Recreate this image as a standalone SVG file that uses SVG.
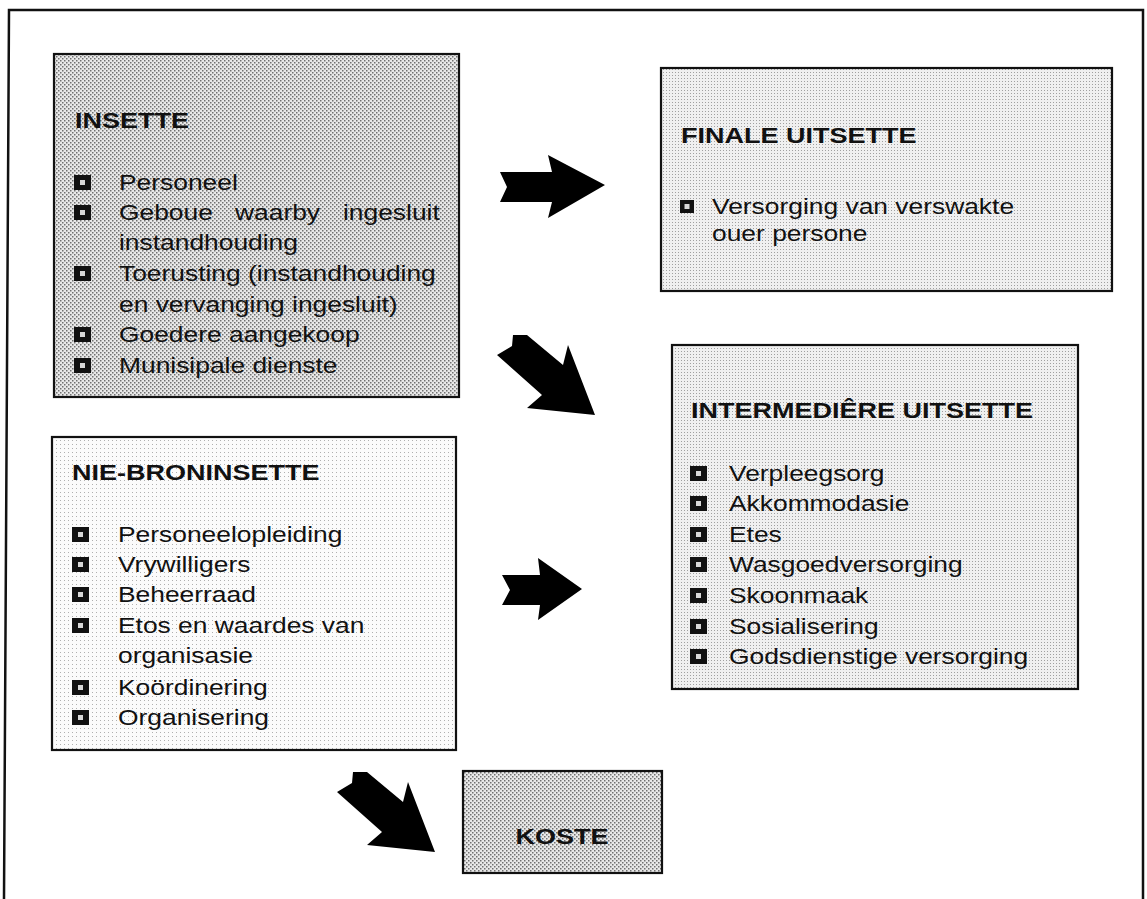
<svg xmlns="http://www.w3.org/2000/svg" xmlns:xlink="http://www.w3.org/1999/xlink" width="1147" height="899" viewBox="0 0 1147 899">
<defs>
<style>
.t{font-family:"Liberation Sans",Arial,sans-serif;font-size:22px;fill:#111}
.h{font-family:"Liberation Sans",Arial,sans-serif;font-size:22.5px;font-weight:bold;fill:#111}
.box{stroke:#111;stroke-width:2.2}
.arrow{fill:#000}
</style>
<pattern id="pDark" width="4" height="4" patternUnits="userSpaceOnUse"><rect width="4" height="4" fill="#e8e8e8"/><rect width="1.5" height="1.5" fill="#707070"/><rect x="2" y="2" width="1.5" height="1.5" fill="#707070"/></pattern>
<pattern id="pLight" width="3" height="3" patternUnits="userSpaceOnUse"><rect width="3" height="3" fill="#f0f0f0"/><rect width="1" height="1" fill="#a0a0a0"/></pattern>
<pattern id="pGrid" width="4" height="4" patternUnits="userSpaceOnUse"><rect width="4" height="4" fill="#fbfbfb"/><rect width="1" height="1" fill="#b0b0b0"/></pattern>
<g id="bullet"><rect width="17" height="15" fill="#111"/><rect x="6" y="5" width="5" height="5" fill="#d8d8d8"/></g>
<g id="bulletS"><rect width="14" height="13" fill="#111"/><rect x="4.5" y="4" width="5" height="5" fill="#d8d8d8"/></g>
<polygon id="diag" points="0,0 14,0 50,30 55,10 82,80 14,73 29,60 -16,20 -1,11"/>
</defs>
<rect width="1147" height="899" fill="#fff"/>
<polyline points="4,899 9,10 1143,10 1143,899" fill="none" stroke="#111" stroke-width="2.5"/>

<g id="insette">
<rect class="box" x="54" y="54" width="405" height="343" fill="url(#pDark)"/>
<text class="h" transform="translate(75,128) scale(1.2,1)">INSETTE</text>
<use xlink:href="#bullet" x="74" y="175"/>
<use xlink:href="#bullet" x="74" y="205"/>
<use xlink:href="#bullet" x="74" y="266"/>
<use xlink:href="#bullet" x="74" y="327"/>
<use xlink:href="#bullet" x="74" y="358"/>
<text class="t" transform="translate(119,190) scale(1.2,1)">Personeel</text>
<text class="t" transform="translate(119,220) scale(1.2,1)">Geboue</text>
<text class="t" transform="translate(235,220) scale(1.2,1)">waarby</text>
<text class="t" transform="translate(343,220) scale(1.2,1)">ingesluit</text>
<text class="t" transform="translate(119,250) scale(1.2,1)">instandhouding</text>
<text class="t" transform="translate(119,281) scale(1.2,1)">Toerusting (instandhouding</text>
<text class="t" transform="translate(119,312) scale(1.2,1)">en vervanging ingesluit)</text>
<text class="t" transform="translate(119,342) scale(1.2,1)">Goedere aangekoop</text>
<text class="t" transform="translate(119,373) scale(1.2,1)">Munisipale dienste</text>
</g>

<g id="finale">
<rect class="box" x="661" y="68" width="451" height="223" fill="url(#pLight)"/>
<text class="h" transform="translate(681,143) scale(1.2,1)">FINALE UITSETTE</text>
<use xlink:href="#bulletS" x="680" y="200"/>
<text class="t" transform="translate(712,214) scale(1.2,1)">Versorging van verswakte</text>
<text class="t" transform="translate(712,241) scale(1.2,1)">ouer persone</text>
</g>

<g id="nie">
<rect class="box" x="52" y="437" width="404" height="313" fill="url(#pGrid)"/>
<text class="h" transform="translate(72,480) scale(1.2,1)">NIE-BRONINSETTE</text>
<use xlink:href="#bullet" x="72" y="527"/>
<use xlink:href="#bullet" x="72" y="557"/>
<use xlink:href="#bullet" x="72" y="587"/>
<use xlink:href="#bullet" x="72" y="618"/>
<use xlink:href="#bullet" x="72" y="680"/>
<use xlink:href="#bullet" x="72" y="710"/>
<text class="t" transform="translate(118,542) scale(1.2,1)">Personeelopleiding</text>
<text class="t" transform="translate(118,572) scale(1.2,1)">Vrywilligers</text>
<text class="t" transform="translate(118,602) scale(1.2,1)">Beheerraad</text>
<text class="t" transform="translate(118,633) scale(1.2,1)">Etos en waardes van</text>
<text class="t" transform="translate(118,663) scale(1.2,1)">organisasie</text>
<text class="t" transform="translate(118,695) scale(1.2,1)">Koördinering</text>
<text class="t" transform="translate(118,725) scale(1.2,1)">Organisering</text>
</g>

<g id="intermediere">
<rect class="box" x="672" y="345" width="406" height="344" fill="url(#pLight)"/>
<text class="h" transform="translate(691,418) scale(1.2,1)">INTERMEDIÊRE UITSETTE</text>
<use xlink:href="#bullet" x="690" y="466"/>
<use xlink:href="#bullet" x="690" y="496"/>
<use xlink:href="#bullet" x="690" y="527"/>
<use xlink:href="#bullet" x="690" y="557"/>
<use xlink:href="#bullet" x="690" y="588"/>
<use xlink:href="#bullet" x="690" y="619"/>
<use xlink:href="#bullet" x="690" y="649"/>
<text class="t" transform="translate(729,481) scale(1.2,1)">Verpleegsorg</text>
<text class="t" transform="translate(729,511) scale(1.2,1)">Akkommodasie</text>
<text class="t" transform="translate(729,542) scale(1.2,1)">Etes</text>
<text class="t" transform="translate(729,572) scale(1.2,1)">Wasgoedversorging</text>
<text class="t" transform="translate(729,603) scale(1.2,1)">Skoonmaak</text>
<text class="t" transform="translate(729,634) scale(1.2,1)">Sosialisering</text>
<text class="t" transform="translate(729,664) scale(1.2,1)">Godsdienstige versorging</text>
</g>

<g id="koste">
<rect class="box" x="463" y="771" width="199" height="102" fill="url(#pDark)"/>
<text class="h" text-anchor="middle" transform="translate(562,844) scale(1.2,1)">KOSTE</text>
</g>

<g id="connectors">
<polygon class="arrow" points="500,172 552,172 548,155 605,185 548,218 552,202 500,202 507,187"/>
<use class="arrow" xlink:href="#diag" x="513" y="335"/>
<polygon class="arrow" points="502,575 540,575 538,558 582,589 538,620 540,605 502,605 510,590"/>
<use class="arrow" xlink:href="#diag" x="353" y="772"/>
</g>
</svg>
